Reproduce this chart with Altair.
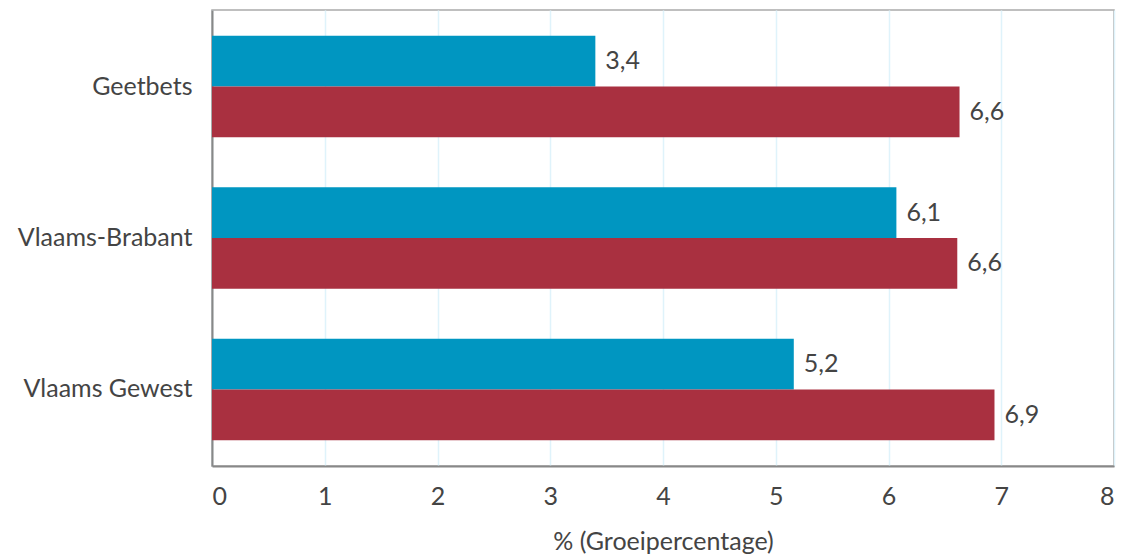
import altair as alt
import pandas as pd

categories = ["Geetbets", "Vlaams-Brabant", "Vlaams Gewest"]
series = ["A", "B"]
values_a = [3.40, 6.07, 5.16]
values_b = [6.63, 6.61, 6.94]
colors = ["#0096C1", "#A93040"]

rows = []
for c, a, b in zip(categories, values_a, values_b):
    rows.append({"cat": c, "serie": "A", "val": a, "lab": f"{a:.1f}".replace(".", ",")})
    rows.append({"cat": c, "serie": "B", "val": b, "lab": f"{b:.1f}".replace(".", ",")})
df = pd.DataFrame(rows)

FONT = "Lato"
FS = 25
TXT = "#444444"

y = alt.Y("cat:N", sort=categories, title=None,
          scale=alt.Scale(paddingInner=0.33, paddingOuter=0.17),
          axis=alt.Axis(labelFontSize=FS, labelColor=TXT, labelFont=FONT,
                        labelPadding=20, ticks=False, domainColor="#888888",
                        domainWidth=2))
x = alt.X("val:Q", title="% (Groeipercentage)",
          scale=alt.Scale(domain=[0, 8], nice=False),
          axis=alt.Axis(values=list(range(9)), format="d", labelFontSize=FS, labelColor=TXT,
                        labelFont=FONT, ticks=False, labelPadding=18,
                        domainColor="#888888", domainWidth=2,
                        gridColor="#dff3fb", gridWidth=1.5,
                        titleFontSize=FS, titleFont=FONT, titleColor=TXT,
                        titleFontWeight="normal", titlePadding=20))

base = alt.Chart(df).encode(
    y=y,
    yOffset=alt.YOffset("serie:N", sort=series),
)

bars = base.mark_bar().encode(
    x=x,
    color=alt.Color("serie:N", scale=alt.Scale(domain=series, range=colors), legend=None),
)

texts = base.mark_text(align="left", baseline="middle", dx=10, fontSize=FS,
                       font=FONT, color=TXT).encode(
    x=alt.X("val:Q"),
    text="lab:N",
)

chart = (bars + texts).properties(
    width=902, height=456,
    autosize=alt.AutoSizeParams(type="none"),
    padding={"left": 204, "top": 2, "right": 6, "bottom": 90},
).configure_view(stroke="#aaaaaa", strokeWidth=1.5).configure_axisY(grid=False)

chart.save("out.html", embed_options={"renderer": "svg", "actions": False})
